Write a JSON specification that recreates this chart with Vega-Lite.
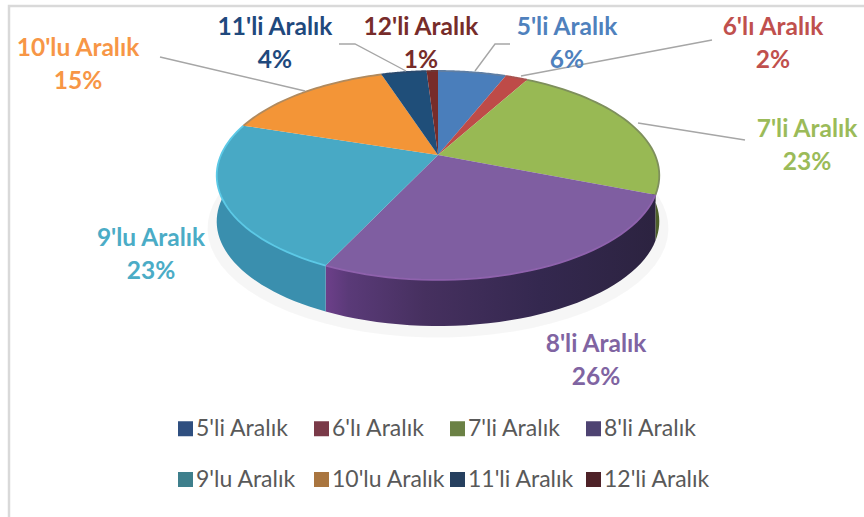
{
"$schema":"https://vega.github.io/schema/vega-lite/v6.json",
"width":864,"height":517,"padding":0,
"autosize":"none",
"background":"white",
"config":{"view":{"stroke":null},"font":"Lato"},
"datasets":{
"slices":[
{"rank":1,"slice":"5'li Aralık","share":6},
{"rank":2,"slice":"6'lı Aralık","share":2},
{"rank":3,"slice":"7'li Aralık","share":23},
{"rank":4,"slice":"8'li Aralık","share":26},
{"rank":5,"slice":"9'lu Aralık","share":23},
{"rank":6,"slice":"10'lu Aralık","share":15},
{"rank":7,"slice":"11'li Aralık","share":4},
{"rank":8,"slice":"12'li Aralık","share":1}],
"captions":[
{"slice":"5'li Aralık","pct":"6%","cx":567,"cy":28},
{"slice":"6'lı Aralık","pct":"2%","cx":773,"cy":28},
{"slice":"7'li Aralık","pct":"23%","cx":807,"cy":130},
{"slice":"8'li Aralık","pct":"26%","cx":596,"cy":345},
{"slice":"9'lu Aralık","pct":"23%","cx":151,"cy":239},
{"slice":"10'lu Aralık","pct":"15%","cx":78,"cy":49},
{"slice":"11'li Aralık","pct":"4%","cx":275,"cy":28},
{"slice":"12'li Aralık","pct":"1%","cx":421,"cy":28}],
"leaders":[
{"id":"a","n":1,"px":339,"py":44},{"id":"a","n":2,"px":355,"py":44},{"id":"a","n":3,"px":406,"py":71},
{"id":"b","n":1,"px":510,"py":44},{"id":"b","n":2,"px":495,"py":44},{"id":"b","n":3,"px":475,"py":71},
{"id":"c","n":1,"px":712,"py":40},{"id":"c","n":2,"px":521,"py":76},
{"id":"d","n":1,"px":745,"py":140},{"id":"d","n":2,"px":638,"py":123},
{"id":"e","n":1,"px":160,"py":57},{"id":"e","n":2,"px":305,"py":91}],
"frame":[{"n":1,"px":864,"py":6},{"n":2,"px":9,"py":6},{"n":3,"px":9,"py":517}]
},
"data":{"name":"slices"},
"transform":[{"stack":"share","sort":[{"field":"rank","order":"ascending"}],"as":["s0","s1"]}],
"encoding":{
"x":{"field":"px","type":"quantitative","axis":null,"scale":{"domain":[0,864],"nice":false,"zero":false}},
"y":{"field":"py","type":"quantitative","axis":null,"scale":{"domain":[0,517],"nice":false,"zero":false,"reverse":true}}
},
"resolve":{"scale":{"fill":"independent"},"legend":{"fill":"independent"}},
"layer":[
{"data":{"name":"frame"},"mark":{"type":"line","stroke":"#d9d9d9","strokeWidth":2.5},"encoding":{"order":{"field":"n","type":"quantitative"}}},
{"transform":[
{"filter":"datum.rank==1"},
{"calculate":"sequence(0,81)","as":"i"},{"flatten":["i"]},
{"calculate":"2*PI*(datum.i/81)","as":"th"},
{"calculate":"438+226*sin(datum.th)/(1+0.196*cos(datum.th))","as":"px"},
{"calculate":"155-105*cos(datum.th)/(1+0.196*cos(datum.th))+52","as":"py"}],
"mark":{"type":"line","fill":"#000000","fillOpacity":0.035,"strokeWidth":0},
"encoding":{"order":{"field":"i","type":"quantitative"}}},
{"transform":[{"filter":"datum.rank==3"},
{"calculate":"sequence(0,80)","as":"i"},{"flatten":["i"]},
{"calculate":"datum.i<40?datum.i/39:(79-datum.i)/39","as":"t"},
{"calculate":"2*PI*(datum.s0+datum.t*(datum.s1-datum.s0))/100","as":"th"},
{"calculate":"438+217*sin(datum.th)/(1+0.196*cos(datum.th))","as":"px"},
{"calculate":"155-100.5*cos(datum.th)/(1+0.196*cos(datum.th))+(datum.i<40?0:46)","as":"py"}],
"mark":{"type":"line","fill":"#4d5f2a","strokeWidth":0},
"encoding":{"order":{"field":"i","type":"quantitative"}}},
{"transform":[{"filter":"datum.rank==4"},
{"calculate":"sequence(0,80)","as":"i"},{"flatten":["i"]},
{"calculate":"datum.i<40?datum.i/39:(79-datum.i)/39","as":"t"},
{"calculate":"2*PI*(datum.s0+datum.t*(datum.s1-datum.s0))/100","as":"th"},
{"calculate":"438+217*sin(datum.th)/(1+0.196*cos(datum.th))","as":"px"},
{"calculate":"155-100.5*cos(datum.th)/(1+0.196*cos(datum.th))+(datum.i<40?0:46)","as":"py"}],
"mark":{"type":"line","strokeWidth":0,"fill":{"gradient":"linear","x1":0,"y1":0,"x2":1,"y2":0,"stops":[{"offset":0,"color":"#6d3f8a"},{"offset":0.07,"color":"#5a3a78"},{"offset":0.3,"color":"#46305f"},{"offset":0.65,"color":"#34284f"},{"offset":1,"color":"#2c2340"}]}},
"encoding":{"order":{"field":"i","type":"quantitative"}}},
{"transform":[{"filter":"datum.rank==5"},
{"calculate":"sequence(0,80)","as":"i"},{"flatten":["i"]},
{"calculate":"datum.i<40?datum.i/39:(79-datum.i)/39","as":"t"},
{"calculate":"2*PI*(datum.s0+datum.t*(datum.s1-datum.s0))/100","as":"th"},
{"calculate":"438+217*sin(datum.th)/(1+0.196*cos(datum.th))","as":"px"},
{"calculate":"155-100.5*cos(datum.th)/(1+0.196*cos(datum.th))+(datum.i<40?0:46)","as":"py"}],
"mark":{"type":"line","fill":"#3a8fae","strokeWidth":0},
"encoding":{"order":{"field":"i","type":"quantitative"}}},
{"transform":[
{"calculate":"sequence(0,41)","as":"i"},{"flatten":["i"]},
{"calculate":"(datum.i-1)/39","as":"t"},
{"calculate":"2*PI*(datum.s0+datum.t*(datum.s1-datum.s0))/100","as":"th"},
{"calculate":"datum.i==0?438:438+217*sin(datum.th)/(1+0.196*cos(datum.th))","as":"px"},
{"calculate":"datum.i==0?155:155-100.5*cos(datum.th)/(1+0.196*cos(datum.th))","as":"py"}],
"mark":{"type":"line","strokeWidth":0},
"encoding":{
"order":{"field":"i","type":"quantitative"},
"fill":{"field":"slice","type":"nominal","legend":null,"scale":{
"domain":["5'li Aralık","6'lı Aralık","7'li Aralık","8'li Aralık","9'lu Aralık","10'lu Aralık","11'li Aralık","12'li Aralık"],
"range":["#4a7ebb","#be4b48","#98b954","#7f5ea1","#48a9c5","#f39537","#1f4e79","#772c2a"]}}}},
{"transform":[
{"calculate":"sequence(0,40)","as":"i"},{"flatten":["i"]},
{"calculate":"datum.i/39","as":"t"},
{"calculate":"2*PI*(datum.s0+datum.t*(datum.s1-datum.s0))/100","as":"th"},
{"calculate":"438+217*sin(datum.th)/(1+0.196*cos(datum.th))","as":"px"},
{"calculate":"155-100.5*cos(datum.th)/(1+0.196*cos(datum.th))","as":"py"}],
"mark":{"type":"line","strokeWidth":1.8},
"encoding":{
"order":{"field":"i","type":"quantitative"},
"stroke":{"field":"slice","type":"nominal","legend":null,"scale":{
"domain":["5'li Aralık","6'lı Aralık","7'li Aralık","8'li Aralık","9'lu Aralık","10'lu Aralık","11'li Aralık","12'li Aralık"],
"range":["#5f7ea3","#a8534f","#7e8f5c","#8f62ad","#5cc9e6","#b08a5e","#2b4a6e","#6e3634"]}}}},
{"data":{"name":"leaders"},"mark":{"type":"line","stroke":"#a6a6a6","strokeWidth":1.4},
"encoding":{"detail":{"field":"id"},"order":{"field":"n","type":"quantitative"}}},
{"data":{"name":"captions"},"mark":{"type":"text","fontSize":24.5,"fontWeight":"bold","font":"Lato","align":"center","baseline":"middle"},
"encoding":{"x":{"field":"cx","type":"quantitative"},"y":{"field":"cy","type":"quantitative"},"text":{"field":"slice"},
"color":{"field":"slice","type":"nominal","legend":null,"scale":{
"domain":["5'li Aralık","6'lı Aralık","7'li Aralık","8'li Aralık","9'lu Aralık","10'lu Aralık","11'li Aralık","12'li Aralık"],
"range":["#4f81bd","#c0504d","#9bbb59","#8064a2","#4bacc6","#f79646","#1f497d","#772c2a"]}}}},
{"data":{"name":"captions"},"mark":{"type":"text","fontSize":24.5,"fontWeight":"bold","font":"Lato","align":"center","baseline":"middle","dy":33},
"encoding":{"x":{"field":"cx","type":"quantitative"},"y":{"field":"cy","type":"quantitative"},"text":{"field":"pct"},
"color":{"field":"slice","type":"nominal","legend":null}}},
{"mark":{"type":"square","size":0,"filled":true},
"transform":[{"calculate":"438","as":"px"},{"calculate":"155","as":"py"}],
"encoding":{
"fill":{"field":"slice","type":"nominal","scale":{"domain":["5'li Aralık","6'lı Aralık","7'li Aralık","8'li Aralık","9'lu Aralık","10'lu Aralık","11'li Aralık","12'li Aralık"],"range":["#2f4f80","#7a3a48","#6b8145","#4e4372","#3e7f8c","#a9753f","#26405f","#4e2228"]},
"legend":{"title":null,"orient":"none","direction":"horizontal","legendX":174,"legendY":417,"columns":4,"symbolType":"square","symbolSize":225,"symbolOpacity":1,"symbolStrokeWidth":0,"labelFont":"Lato","labelFontSize":23,"labelColor":"#595959","labelOffset":-1,"rowPadding":27,"columnPadding":-13,"labelLimit":200,"gridAlign":"all"}}}}
]
}
